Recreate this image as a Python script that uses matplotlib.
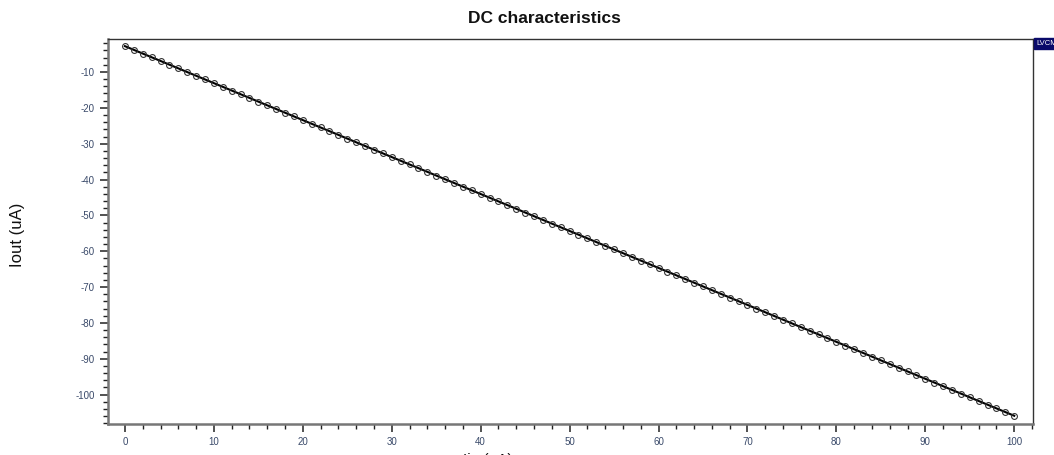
import matplotlib
matplotlib.use("Agg")
import matplotlib.pyplot as plt
from matplotlib.ticker import MultipleLocator

plt.rcParams["font.family"] = ["Liberation Sans", "DejaVu Sans"]
plt.rcParams["axes.unicode_minus"] = False

# sweep of input current (uA) and measured output current (uA)
iin = list(range(101))
iout = [
    -2.80, -3.83, -4.86, -5.89, -6.92, -7.96, -8.99, -10.02, -11.05, -12.08,
    -13.11, -14.14, -15.17, -16.20, -17.23, -18.27, -19.30, -20.33, -21.36, -22.39,
    -23.42, -24.45, -25.48, -26.51, -27.54, -28.58, -29.61, -30.64, -31.67, -32.70,
    -33.73, -34.76, -35.79, -36.82, -37.85, -38.89, -39.92, -40.95, -41.98, -43.01,
    -44.04, -45.07, -46.10, -47.13, -48.16, -49.20, -50.23, -51.26, -52.29, -53.32,
    -54.35, -55.38, -56.41, -57.44, -58.47, -59.51, -60.54, -61.57, -62.60, -63.63,
    -64.66, -65.69, -66.72, -67.75, -68.78, -69.82, -70.85, -71.88, -72.91, -73.94,
    -74.97, -76.00, -77.03, -78.06, -79.09, -80.13, -81.16, -82.19, -83.22, -84.25,
    -85.28, -86.31, -87.34, -88.37, -89.40, -90.44, -91.47, -92.50, -93.53, -94.56,
    -95.59, -96.62, -97.65, -98.68, -99.71, -100.75, -101.78, -102.81, -103.84, -104.87,
    -105.90,
]
legend_name = "LVCM"

TICK_COLOR = "#3a4a6a"

fig = plt.figure(figsize=(10.54, 4.55), dpi=100)
ax = fig.add_axes([0.1025, 0.0681, 0.8775, 0.8462])

ax.plot(iin, iout, color="black", linewidth=1.5, marker="o", markersize=4.2,
        markerfacecolor="none", markeredgecolor="#333333", markeredgewidth=0.8)

ax.set_xlim(-1.9, 102.1)
ax.set_ylim(-108.2, -0.8)

ax.xaxis.set_major_locator(MultipleLocator(10))
ax.xaxis.set_minor_locator(MultipleLocator(2))
ax.yaxis.set_major_locator(MultipleLocator(10))
ax.yaxis.set_minor_locator(MultipleLocator(2))

ax.tick_params(axis="both", which="major", direction="out", length=5.5, width=1.1,
               colors="#222222", labelsize=7, labelcolor=TICK_COLOR, pad=4)
ax.tick_params(axis="both", which="minor", direction="out", length=3.5, width=1.0,
               colors="#222222")

for side in ("left", "bottom"):
    ax.spines[side].set_color("#777777")
    ax.spines[side].set_linewidth(1.8)
for side in ("top", "right"):
    ax.spines[side].set_color("#333333")
    ax.spines[side].set_linewidth(1.0)

fig.text(0.517, 0.96, "DC characteristics", ha="center", va="center",
         fontsize=12.5, fontweight="bold", color="#111111")
fig.text(0.017, 0.485, "Iout (uA)", ha="center", va="center", rotation=90,
         fontsize=12, color="#111111")
fig.text(0.463, -0.012, "Iin (uA)", ha="center", va="center",
         fontsize=11, color="#111111")

fig.text(0.983, 0.905, legend_name, ha="left", va="center", fontsize=5.5,
         color="white",
         bbox=dict(boxstyle="square,pad=0.25", facecolor="#0a0a6a",
                   edgecolor="#0a0a6a"))

fig.savefig("out.png", dpi=100, facecolor="white")
